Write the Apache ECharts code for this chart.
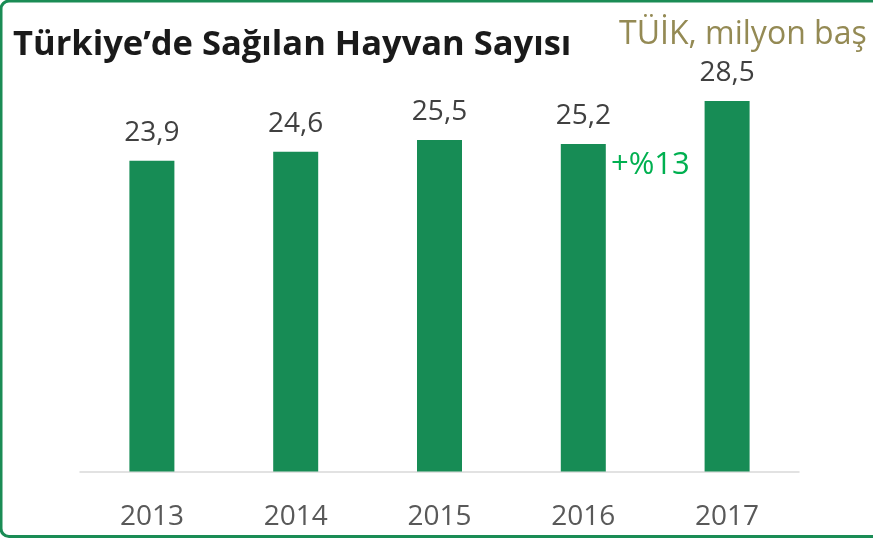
<!DOCTYPE html>
<html>
<head>
<meta charset="utf-8">
<script src="https://cdn.jsdelivr.net/npm/echarts@6/dist/echarts.min.js"></script>
<style>
  html, body { margin: 0; padding: 0; background: #fff; }
  #chart { width: 873px; height: 539px; }
</style>
</head>
<body>
<div id="chart"></div>
<script>
// yıllar ve sağılan hayvan sayısı (milyon baş)
var years = ["2013", "2014", "2015", "2016", "2017"]
var animals = [23.9, 24.6, 25.5, 25.2, 28.5]
var growthText = "+%13"

var green = "#178C55"
var chart = echarts.init(document.getElementById("chart"))

var option = {
  animation: false,
  backgroundColor: "#fff",
  title: {
    text: "Türkiye’de Sağılan Hayvan Sayısı",
    left: 8,
    top: 23,
    textStyle: {
      fontFamily: "Open Sans",
      fontWeight: "bold",
      fontSize: 34.5,
      color: "#1a1a1a"
    }
  },
  grid: {
    left: 80,
    right: 74,
    top: 81.5,
    bottom: 67.5
  },
  xAxis: {
    type: "category",
    data: years,
    axisLine: { lineStyle: { color: "#d9d9d9", width: 1.5 } },
    axisTick: { show: false },
    axisLabel: {
      color: "#595959",
      fontFamily: "Open Sans",
      fontSize: 28,
      margin: 32
    }
  },
  yAxis: {
    type: "value",
    min: 0,
    max: 30,
    show: false
  },
  series: [
    {
      type: "bar",
      data: animals,
      barWidth: 45,
      itemStyle: { color: green },
      label: {
        show: true,
        position: "top",
        distance: 14,
        color: "#404040",
        fontFamily: "Open Sans",
        fontSize: 28,
        formatter: function (p) {
          return String(p.value.toFixed(1)).replace(".", ",")
        }
      }
    }
  ],
  graphic: [
    {
      type: "rect",
      shape: { x: 1, y: 1, width: 900, height: 535.5, r: 8 },
      style: { fill: "none", stroke: "#1A8C55", lineWidth: 3 },
      silent: true
    },
    {
      type: "text",
      left: 619,
      top: 19,
      style: {
        text: "TÜİK, milyon baş",
        fill: "#948A54",
        font: "32px 'Open Sans'"
      }
    },
    {
      type: "text",
      left: 611,
      top: 150,
      style: {
        text: growthText,
        fill: "#00B050",
        font: "31px 'Open Sans'"
      }
    }
  ]
}

chart.setOption(option)
window.addEventListener("resize", function () {
  chart.resize()
})
</script>
</body>
</html>
